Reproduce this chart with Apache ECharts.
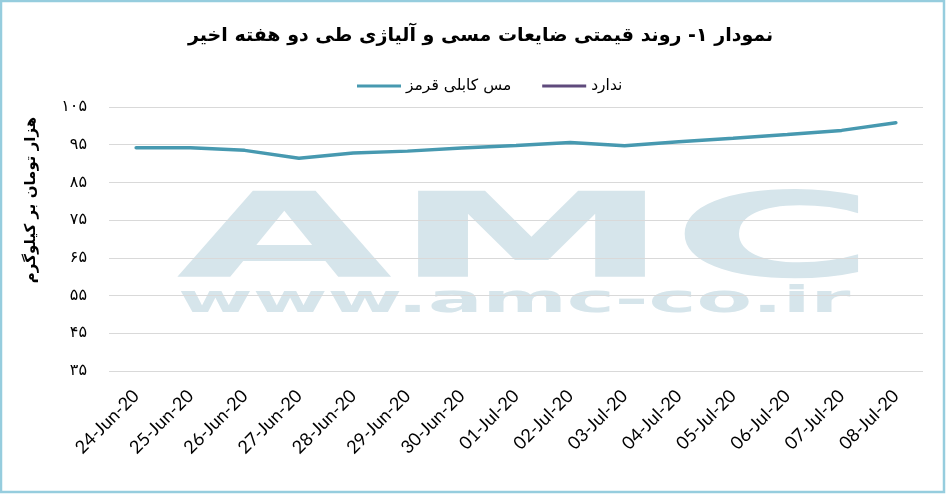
<!DOCTYPE html>
<html><head><meta charset="utf-8">
<script src="https://cdn.jsdelivr.net/npm/echarts@6/dist/echarts.min.js"></script>
<style>html,body{margin:0;padding:0;background:#fff}#c{width:946px;height:494px}</style>
</head><body><div id="c"></div>
<script>
const categories = ['24-Jun-20','25-Jun-20','26-Jun-20','27-Jun-20','28-Jun-20','29-Jun-20','30-Jun-20','01-Jul-20','02-Jul-20','03-Jul-20','04-Jul-20','05-Jul-20','06-Jul-20','07-Jul-20','08-Jul-20'];
const copperValues = [94.2, 94.2, 93.5, 91.4, 92.8, 93.3, 94.1, 94.8, 95.6, 94.7, 95.8, 96.7, 97.7, 98.8, 100.8];
const noneValues = [];
const seriesNames = ['مس کابلی قرمز', 'ندارد'];
const titleText = 'نمودار ۱- روند قیمتی ضایعات مسی و آلیاژی طی دو هفته اخیر';
const yAxisTitle = 'هزار تومان بر کیلوگرم';
const yMin = 35, yMax = 105, yStep = 10;

const toFa = s => String(s).replace(/[0-9]/g, d => '۰۱۲۳۴۵۶۷۸۹'[+d]);
const wm = '#d6e5eb';
const chart = echarts.init(document.getElementById('c'));
chart.setOption({
  backgroundColor: '#fff',
  animation: false,
  title: {
    text: titleText, left: 183, top: 22,
    textStyle: {fontFamily: 'DejaVu Sans', fontWeight: 'bold', fontSize: 19, color: '#000'}
  },
  legend: {
    data: seriesNames, top: 73, left: 352,
    itemWidth: 44, itemHeight: 3, itemGap: 31, icon: 'rect',
    textStyle: {fontFamily: 'DejaVu Sans', fontSize: 15.5, color: '#000'}
  },
  graphic: [
    {type: 'rect', z: -10, shape: {x: 1, y: 1, width: 943, height: 491}, style: {fill: 'none', stroke: '#96cdde', lineWidth: 2.5}},
    {type: 'text', z: -5, x: 176, y: 187, scaleX: 2.37, style: {text: 'AMC', fontFamily: 'DejaVu Sans', fontWeight: 'bold', fontSize: 118, fill: wm, textVerticalAlign: 'top'}},
    {type: 'text', z: -5, x: 178, y: 283, scaleX: 2.13, style: {text: 'www.amc-co.ir', fontFamily: 'DejaVu Sans', fontWeight: 'bold', fontSize: 38, fill: wm, textVerticalAlign: 'top'}},
    {type: 'text', x: 31, y: 200, rotation: Math.PI / 2, style: {text: yAxisTitle, fontFamily: 'DejaVu Sans', fontWeight: 'bold', fontSize: 15, fill: '#000', align: 'center', verticalAlign: 'middle'}}
  ],
  grid: {left: 109, right: 23, top: 107, bottom: 123},
  xAxis: {
    type: 'category', data: categories, boundaryGap: true,
    axisLine: {show: false}, axisTick: {show: false},
    axisLabel: {rotate: 45, interval: 0, margin: 22, fontFamily: 'Lato', fontSize: 18, color: '#000'}
  },
  yAxis: {
    type: 'value', min: yMin, max: yMax, interval: yStep,
    axisLine: {show: false}, axisTick: {show: false},
    splitLine: {lineStyle: {color: '#d9d9d9', width: 1}},
    axisLabel: {margin: 22, fontFamily: 'DejaVu Sans', fontSize: 16, color: '#000', formatter: v => toFa(v)}
  },
  series: [
    {name: seriesNames[0], type: 'line', data: copperValues, symbol: 'none', smooth: false,
     lineStyle: {color: '#4799b0', width: 3.5, cap: 'round'}, itemStyle: {color: '#4799b0'}},
    {name: seriesNames[1], type: 'line', data: noneValues, symbol: 'none',
     lineStyle: {color: '#5f4a7c', width: 3.5}, itemStyle: {color: '#5f4a7c'}}
  ]
});
</script></body></html>
